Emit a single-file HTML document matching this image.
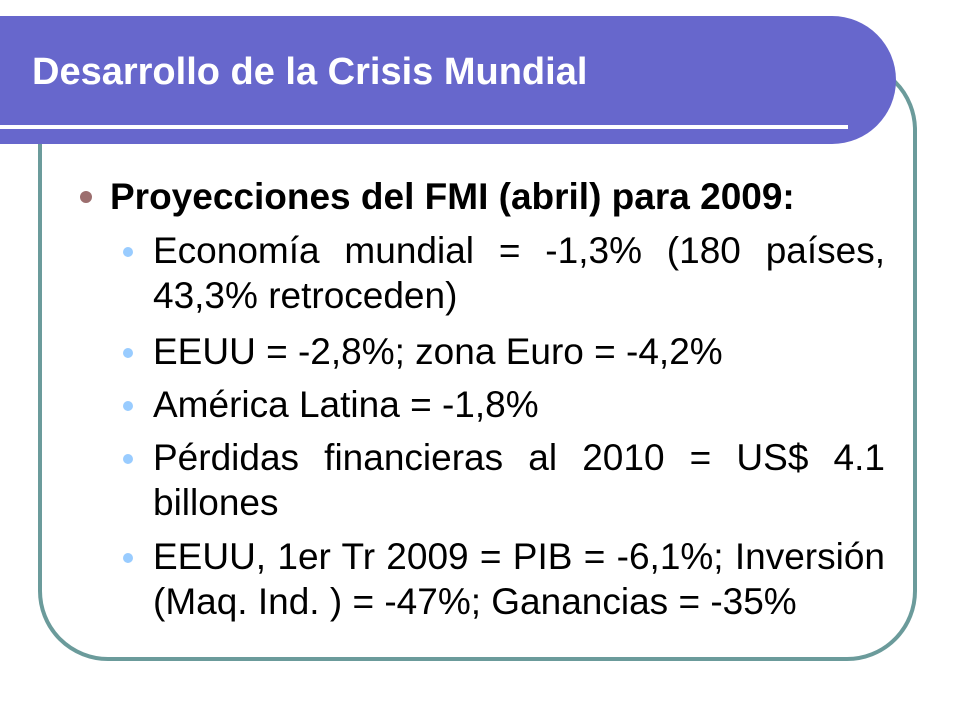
<!DOCTYPE html>
<html><head><meta charset="utf-8"><style>
html,body{margin:0;padding:0;width:960px;height:720px;background:#fff;overflow:hidden;position:relative;font-family:"Liberation Sans",Arial,sans-serif}
.box{position:absolute;left:38px;top:60px;width:871px;height:593px;border:4px solid #6b9b9b;border-radius:70px;box-sizing:content-box}
.hdr{position:absolute;left:0;top:16px;width:896px;height:128px;background:#6767cc;border-radius:0 75px 75px 0}
.wl{position:absolute;left:0;top:125px;width:848px;height:4px;background:#fff}
.title{position:absolute;left:32px;top:50px;font-size:38px;font-weight:bold;color:#fff;line-height:44px;white-space:nowrap}
.ln{position:absolute;font-size:37px;line-height:44px;color:#000;white-space:nowrap}
.j{left:153px;width:732px;text-align:justify;text-align-last:justify;white-space:normal}
.d1{position:absolute;width:12px;height:12px;border-radius:50%;background:#9c6e6e}
.d2{position:absolute;width:10px;height:10px;border-radius:50%;background:#99ccff}
</style></head><body>
<div class="box"></div>
<div class="hdr"></div>
<div class="wl"></div>
<div class="title">Desarrollo de la Crisis Mundial</div>

<div class="d1" style="left:80px;top:191px"></div>
<div class="ln" style="left:110px;top:175px;font-weight:bold">Proyecciones del FMI (abril) para 2009:</div>

<div class="d2" style="left:123px;top:247px"></div>
<div class="ln j" style="top:229px">Economía mundial = -1,3% (180 países,</div>
<div class="ln" style="left:153px;top:274px">43,3% retroceden)</div>

<div class="d2" style="left:123px;top:348px"></div>
<div class="ln" style="left:153px;top:330px">EEUU = -2,8%; zona Euro = -4,2%</div>

<div class="d2" style="left:123px;top:401px"></div>
<div class="ln" style="left:153px;top:383px">América Latina = -1,8%</div>

<div class="d2" style="left:123px;top:454px"></div>
<div class="ln j" style="top:436px">Pérdidas financieras al 2010 = US$ 4.1</div>
<div class="ln" style="left:153px;top:481px">billones</div>

<div class="d2" style="left:123px;top:553px"></div>
<div class="ln j" style="top:535px">EEUU, 1er Tr 2009 = PIB = -6,1%; Inversión</div>
<div class="ln" style="left:153px;top:580px">(Maq. Ind. ) = -47%; Ganancias = -35%</div>
</body></html>
